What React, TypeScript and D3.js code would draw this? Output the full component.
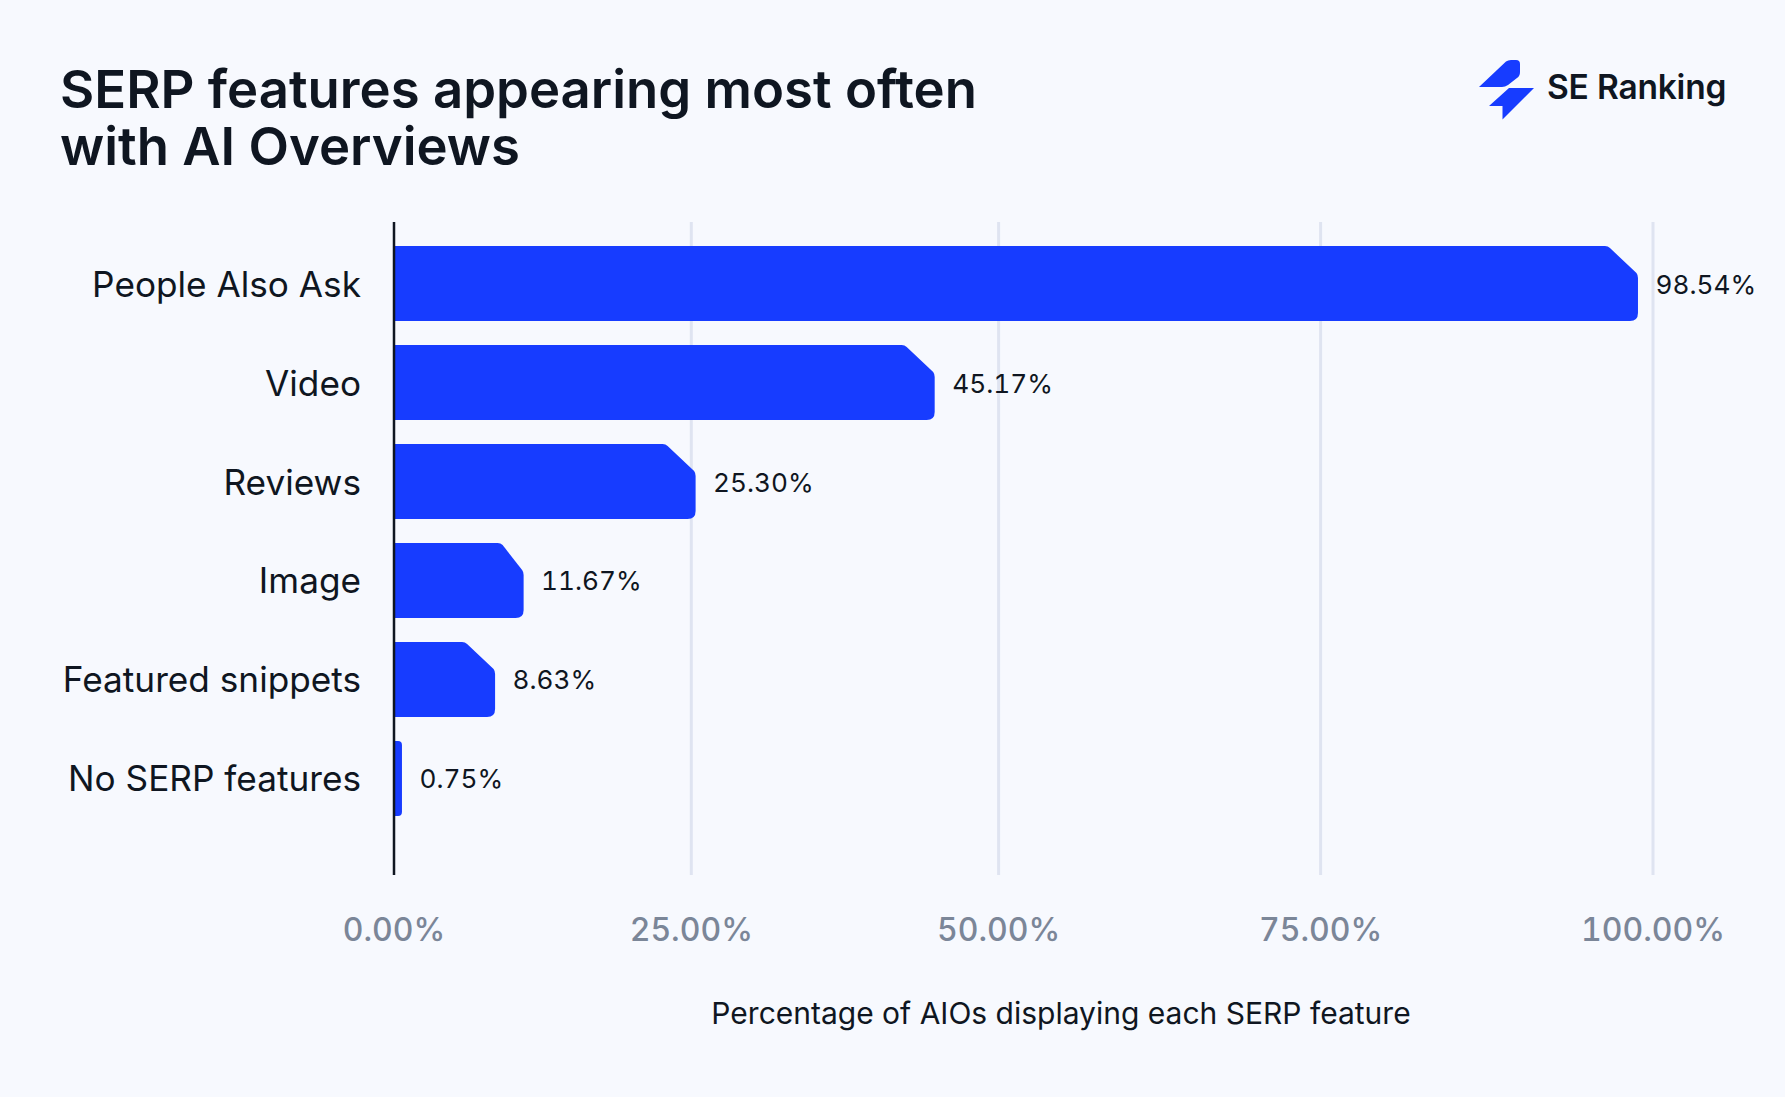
import React from "react";
import * as d3 from "d3";

const categories = ["People Also Ask", "Video", "Reviews", "Image", "Featured snippets", "No SERP features"];
const valueLabels = ["98.54%", "45.17%", "25.30%", "11.67%", "8.63%", "0.75%"];
// where each bar actually ends against the axis, the artwork is not exactly to scale
const barValues = [98.87, 44.8, 25.35, 10.9, 8.5, 0.67];
const ticks = [0, 25, 50, 75, 100];
const tickPositions = [394, 691.3, 998.6, 1320.6, 1653];

const WIDTH = 1785;
const HEIGHT = 1097;
const FONT = "Inter, sans-serif";
const INK = "#0f1621";
const BLUE = "#173cff";

const x = d3.scaleLinear<number>().domain(ticks).range(tickPositions);
const y = d3.scaleBand<string>().domain(categories).range([222, 840]).padding(0.243);

function barPath(value: number, top: number, h: number, cut: number) {
    const x0 = x(0);
    const x1 = x(value);
    const w = x1 - x0;
    const r = Math.min(8, w / 2);
    const c = Math.min(cut, w - 14);
    const p = d3.path();
    p.moveTo(x0, top);
    if (c > 4) {
        p.lineTo(x1 - c - 3, top);
        p.quadraticCurveTo(x1 - c, top, x1 - c + 2, top + 2);
        p.lineTo(x1 - 1.5, top + 27);
        p.quadraticCurveTo(x1, top + 29, x1, top + 32);
    } else {
        p.lineTo(x1 - r, top);
        p.quadraticCurveTo(x1, top, x1, top + r);
    }
    p.lineTo(x1, top + h - r);
    p.quadraticCurveTo(x1, top + h, x1 - r, top + h);
    p.lineTo(x0, top + h);
    p.closePath();
    return p.toString();
}

const App: React.FC = () => {
    return (
        <svg
            width={WIDTH}
            height={HEIGHT}
            viewBox={`0 0 ${WIDTH} ${HEIGHT}`}
            style={{ position: "absolute", left: 0, top: 0, background: "#f7f9fe" }}
            fontFamily={FONT}
        >
            <text x={60} y={108} fontSize={52.7} fontWeight={600} fill={INK}>SERP features appearing most often</text>
            <text x={60} y={165} fontSize={52.7} fontWeight={600} fill={INK}>with AI Overviews</text>

            <g fill={BLUE}>
                <path d="M1479 87 L1506 61.500 Q1508 60 1511 60 L1516 60 Q1520 60 1520 64 L1520 72 Q1520 76 1517 78 L1508 85 Q1505 87 1502 87 Z" />
                <path d="M1489 106 L1509 88 L1534 88 L1502.500 119.500 L1502.500 106 Z" />
            </g>
            <text x={1547} y={98.5} fontSize={33.5} fontWeight={600} letterSpacing={-0.2} fill={INK}>SE Ranking</text>

            {ticks.slice(1).map((t) => (
                <line key={t} x1={x(t)} x2={x(t)} y1={222} y2={875} stroke="#dfe4f1" strokeWidth={3} />
            ))}

            {categories.map((c, i) => {
                const top = y(c) as number;
                const h = y.bandwidth();
                const mid = top + h / 2;
                return (
                    <g key={c}>
                        <path d={barPath(barValues[i], top, h, c === "Image" ? 23 : 30)} fill={BLUE} />
                        <text x={361} y={mid + 13} fontSize={35.2} fontWeight={400} fill={INK} textAnchor="end">{c}</text>
                        <text
                            x={x(barValues[i]) + 17.5}
                            y={mid + 10}
                            fontSize={26.2}
                            fontWeight={400}
                            fill={INK}
                            style={{ fontVariantNumeric: "tabular-nums" }}
                        >
                            {valueLabels[i]}
                        </text>
                    </g>
                );
            })}

            <line x1={x(0)} x2={x(0)} y1={222} y2={875} stroke={INK} strokeWidth={2.5} />

            {ticks.map((t) => (
                <text
                    key={t}
                    x={x(t)}
                    y={941}
                    fontSize={32}
                    fontWeight={500}
                    fill="#7b8698"
                    textAnchor="middle"
                    style={{ fontVariantNumeric: "tabular-nums" }}
                >
                    {d3.format(".2f")(t)}%
                </text>
            ))}
            <text x={1061} y={1024} fontSize={30} fontWeight={400} fill={INK} textAnchor="middle">
                Percentage of AIOs displaying each SERP feature
            </text>
        </svg>
    );
};

export default App;
